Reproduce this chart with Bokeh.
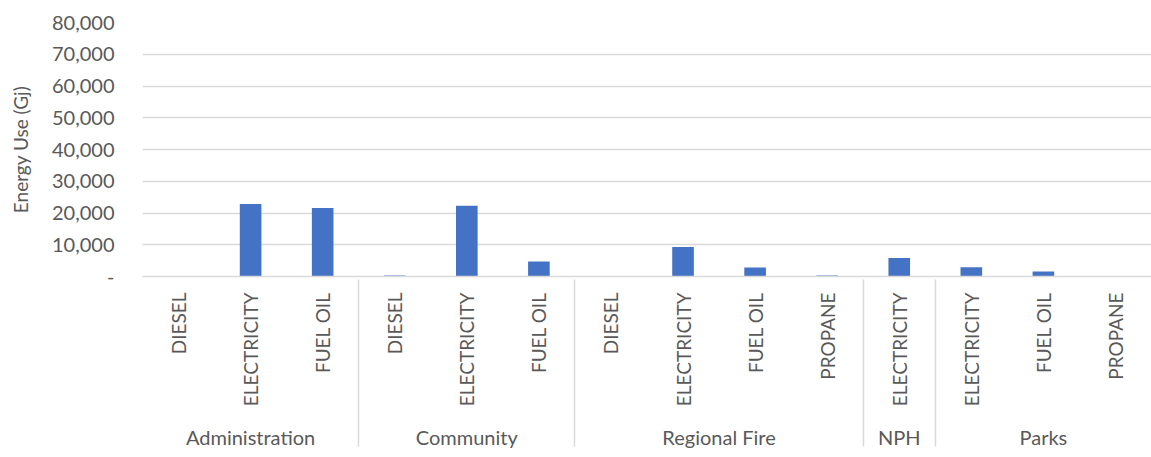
import math
from bokeh.plotting import figure
from bokeh.models import FactorRange, Range1d, FixedTicker, CustomJSTickFormatter, ColumnDataSource
from bokeh.embed import file_html
from bokeh.resources import INLINE

departments = ["Administration", "Administration", "Administration",
               "Community", "Community", "Community",
               "Regional Fire", "Regional Fire", "Regional Fire", "Regional Fire",
               "NPH",
               "Parks", "Parks", "Parks"]
fuels = ["DIESEL", "ELECTRICITY", "FUEL OIL",
         "DIESEL", "ELECTRICITY", "FUEL OIL",
         "DIESEL", "ELECTRICITY", "FUEL OIL", "PROPANE",
         "ELECTRICITY",
         "ELECTRICITY", "FUEL OIL", "PROPANE"]
energy_gj = [60, 22800, 21600,
             350, 22300, 4700,
             0, 9300, 2800, 320,
             5850,
             2900, 1600, 0]
y_ticks = [0, 10000, 20000, 30000, 40000, 50000, 60000, 70000, 80000]
y_title = "Energy Use (Gj)"

factors = list(zip(departments, fuels))
src = ColumnDataSource(dict(x=factors, y=energy_gj))

FONT = "Lato"
GREY = "#595959"
LINE = "#d9d9d9"

x_range = FactorRange(*factors, range_padding=0, factor_padding=0, group_padding=0)
p = figure(x_range=x_range, y_range=Range1d(0, 80000), width=1151, height=457,
           output_backend="svg", toolbar_location=None,
           min_border_left=142, min_border_right=0, min_border_top=22, min_border_bottom=181)
p.outline_line_color = None
p.background_fill_color = "white"
p.border_fill_color = "white"

p.vbar(x="x", top="y", width=0.3, source=src, fill_color="#4472C4", line_color=None)

# grid
p.xgrid.grid_line_color = None
p.ygrid.ticker = FixedTicker(ticks=y_ticks)
p.ygrid.grid_line_color = LINE
p.ygrid.grid_line_width = 1.5

# y axis
ya = p.yaxis[0]
ya.ticker = FixedTicker(ticks=y_ticks)
ya.formatter = CustomJSTickFormatter(code="return tick == 0 ? '-' : tick.toLocaleString('en-US');")
ya.axis_line_color = None
ya.major_tick_line_color = None
ya.minor_tick_line_color = None
ya.major_tick_out = 0
ya.major_tick_in = 0
ya.major_label_standoff = 28
ya.major_label_text_font = FONT
ya.major_label_text_font_size = "20px"
ya.major_label_text_color = GREY
ya.axis_label = y_title
ya.axis_label_text_font = FONT
ya.axis_label_text_font_size = "19px"
ya.axis_label_text_font_style = "normal"
ya.axis_label_text_color = GREY
ya.axis_label_standoff = 17

# x axis
xa = p.xaxis[0]
xa.axis_line_color = LINE
xa.axis_line_width = 1.5
xa.major_tick_line_color = None
xa.major_tick_out = 0
xa.major_tick_in = 0
xa.major_label_standoff = 16
xa.major_label_orientation = math.pi / 2
xa.major_label_text_font = FONT
xa.major_label_text_font_size = "19px"
xa.major_label_text_color = GREY
xa.group_text_font = FONT
xa.group_text_font_size = "20px"
xa.group_text_font_style = "normal"
xa.group_text_color = GREY
xa.group_text_line_height = 1.6
xa.separator_line_color = LINE
xa.separator_line_width = 1.5

open("out.html", "w").write(file_html(p, INLINE))
